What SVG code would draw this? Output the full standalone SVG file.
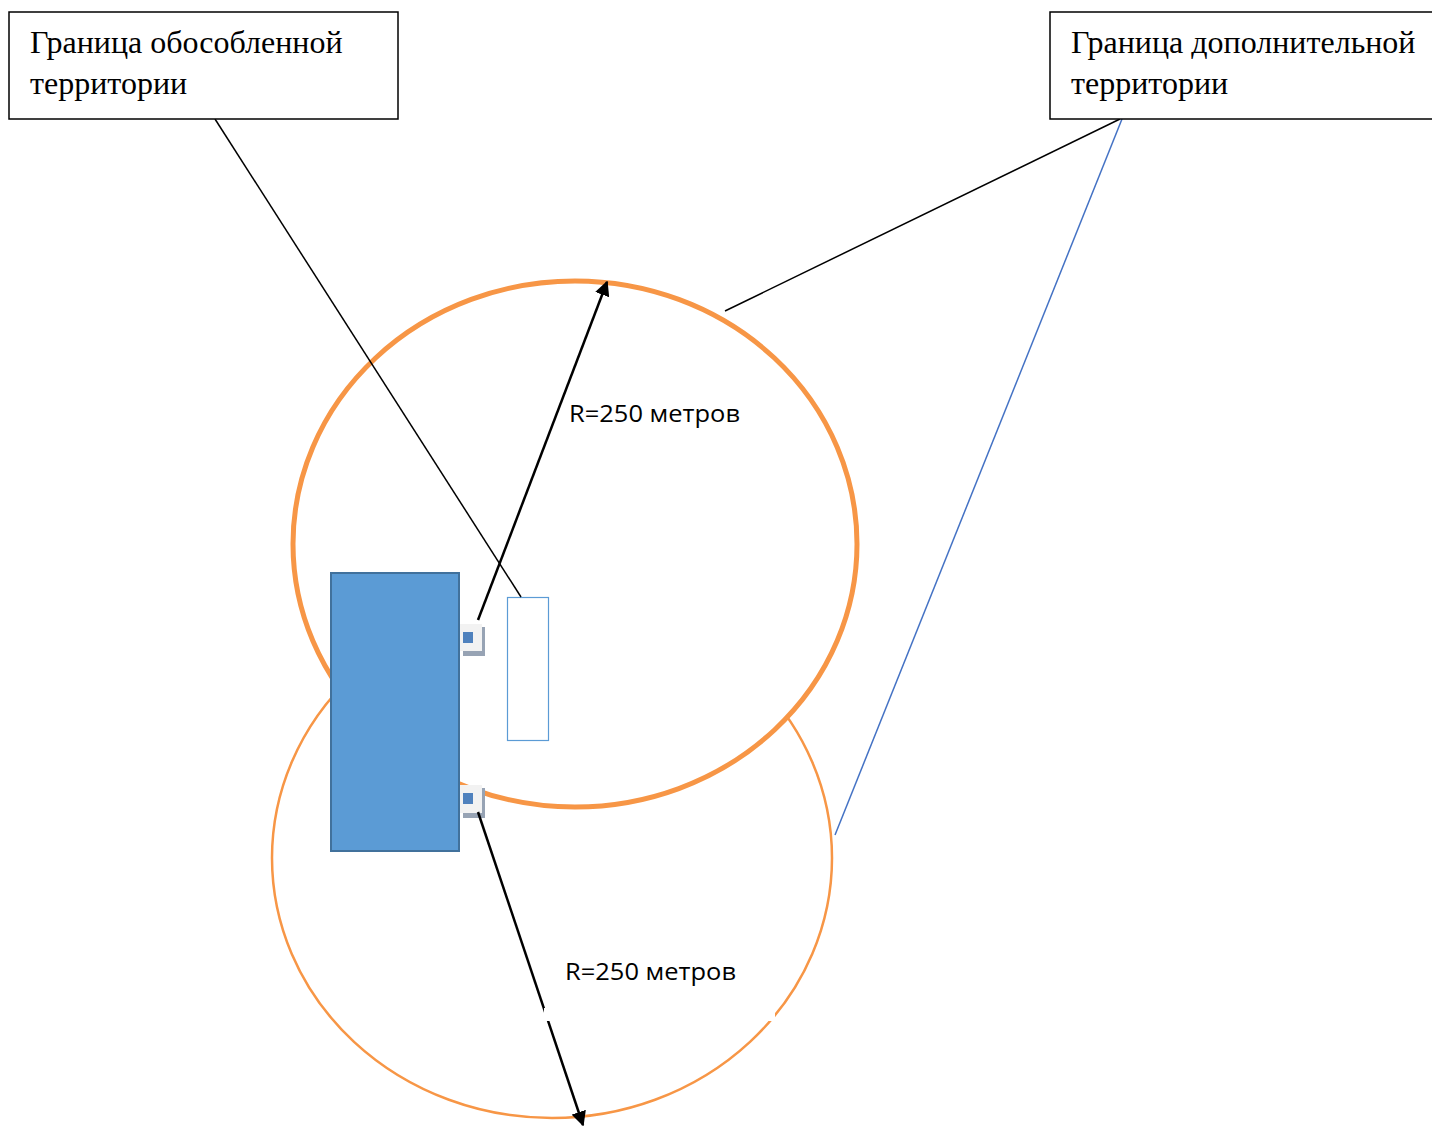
<svg xmlns="http://www.w3.org/2000/svg" width="1432" height="1129" viewBox="0 0 1432 1129">
<defs>
<style>
.callout{fill:#fff;stroke:#000;stroke-width:1.5}
.ctext{font-family:"Liberation Serif","Times New Roman",serif;font-size:32px;fill:#000}
.rtext{font-family:"Open Sans","Noto Sans",sans-serif;font-size:24px;fill:#000}
.lead{stroke:#000;stroke-width:1.5;fill:none}
.arrow{stroke:#000;stroke-width:2.5;fill:none;marker-end:url(#ah)}
.icon-bg{fill:#f2f2f2}
.icon-sh{fill:#97a3b4}
.icon-sq{fill:#4f81bd}
</style>
<marker id="ah" viewBox="0 0 10 10" refX="9" refY="5" markerWidth="6" markerHeight="6" markerUnits="strokeWidth" orient="auto">
<path d="M0,0 L10,5 L0,10 Z" fill="#000"/>
</marker>
</defs>
<rect width="1432" height="1129" fill="#fff"/>
<g id="zone-lower">
<ellipse cx="552" cy="858" rx="280" ry="260" fill="#fff" stroke="#f79646" stroke-width="2.5"/>
</g>
<g id="zone-upper">
<ellipse cx="575" cy="544" rx="282" ry="263" fill="#fff" stroke="#f79646" stroke-width="5"/>
</g>
<g id="building">
<rect x="331" y="573" width="128" height="278" fill="#5b9bd5" stroke="#41719c" stroke-width="2"/>
</g>
<g id="separate-area">
<rect x="507.5" y="597.5" width="41" height="143" fill="#fff" stroke="#5b9bd5" stroke-width="1.2"/>
</g>
<g id="entrance-1">
<rect x="463" y="627" width="22" height="29" class="icon-sh"/>
<rect x="460" y="624" width="22" height="27" class="icon-bg"/>
<rect x="463" y="632" width="10" height="11" class="icon-sq"/>
</g>
<g id="entrance-2">
<rect x="463" y="788" width="22" height="30" class="icon-sh"/>
<rect x="460" y="785" width="22" height="28" class="icon-bg"/>
<rect x="463" y="793" width="10" height="11" class="icon-sq"/>
</g>
<g id="connectors">
<line class="lead" x1="215" y1="119" x2="521" y2="597"/>
<line class="lead" x1="1120" y1="119" x2="725" y2="311"/>
<line x1="1122" y1="119" x2="835" y2="835" stroke="#4472c4" stroke-width="1.5"/>
<line class="arrow" x1="478" y1="620" x2="607" y2="282"/>
<line class="arrow" x1="478" y1="812" x2="583" y2="1125"/>
</g>
<g id="mask">
<rect x="544" y="1008" width="231" height="13" fill="#fff"/>
</g>
<g id="label-r1">
<text class="rtext" x="569" y="422" textLength="171" lengthAdjust="spacingAndGlyphs">R=250 метров</text>
</g>
<g id="label-r2">
<text class="rtext" x="565" y="980" textLength="171" lengthAdjust="spacingAndGlyphs">R=250 метров</text>
</g>
<g id="callout-separate">
<rect class="callout" x="9" y="12" width="389" height="107"/>
<text class="ctext" x="30" y="53">Граница обособленной</text>
<text class="ctext" x="30" y="94">территории</text>
</g>
<g id="callout-additional">
<rect class="callout" x="1050" y="12" width="400" height="107"/>
<text class="ctext" x="1071" y="53">Граница дополнительной</text>
<text class="ctext" x="1071" y="94">территории</text>
</g>
</svg>
